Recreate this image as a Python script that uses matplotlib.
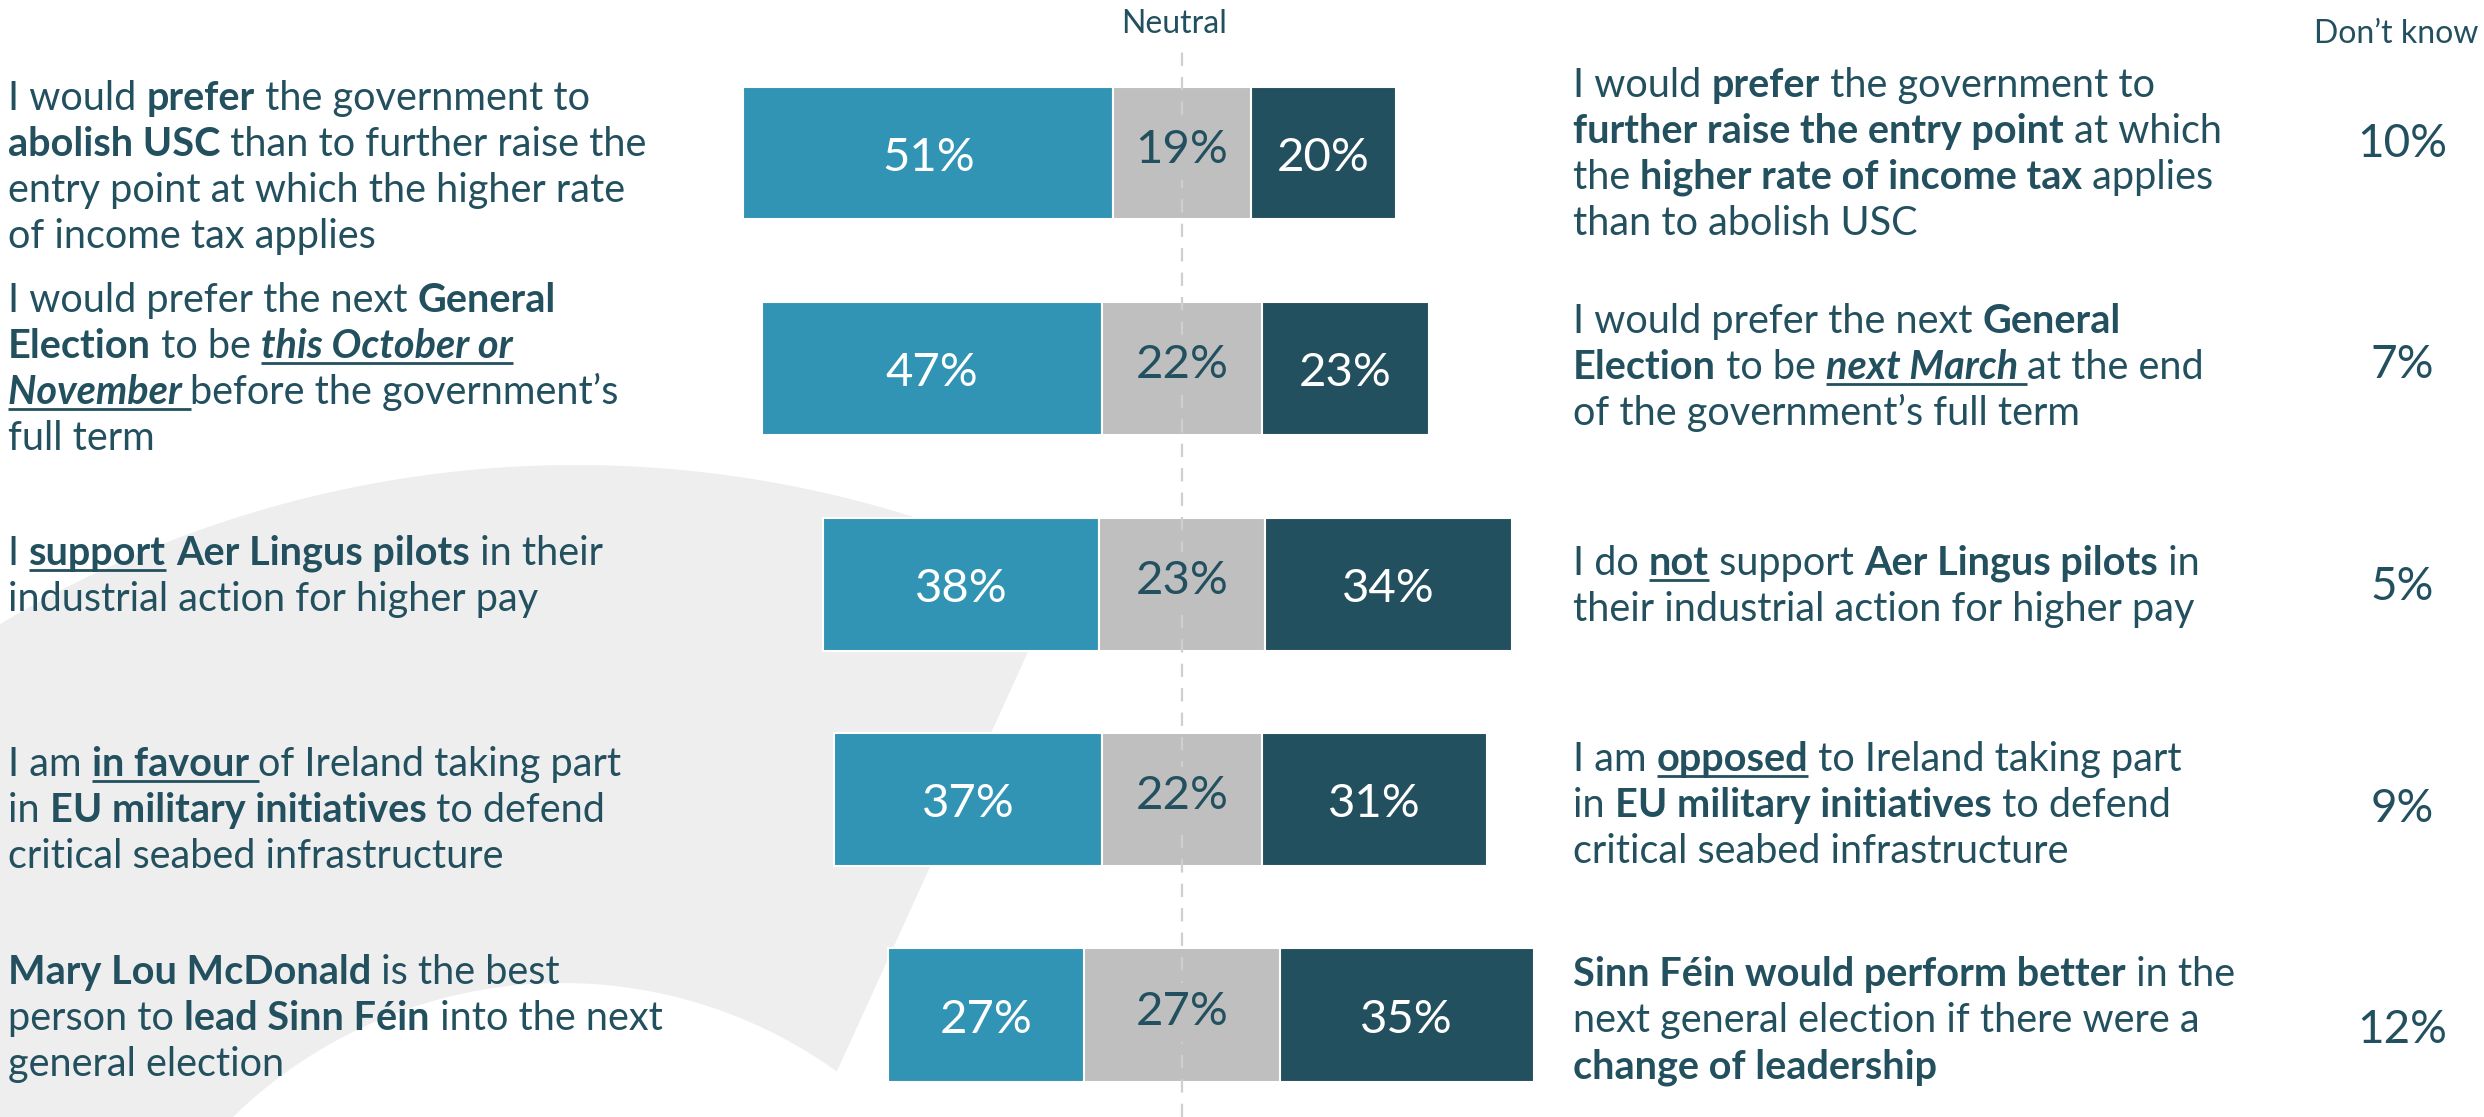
import numpy as np
import matplotlib
matplotlib.use("Agg")
import matplotlib.pyplot as plt
from matplotlib.font_manager import FontProperties
from matplotlib.patches import Polygon
from matplotlib.lines import Line2D

W, H = 2484, 1117
DPI = 100

# survey results (%), one entry per question pair, top to bottom
agree = [51, 47, 38, 37, 27]
neutral = [19, 22, 23, 22, 27]
disagree = [20, 23, 34, 31, 35]
dont_know = [10, 7, 5, 9, 12]

# statements: lines of (text, format) runs; b = bold, i = italic, u = underline
left_labels = [
    [[("I would ", ""), ("prefer", "b"), (" the government to", "")],
     [("abolish USC", "b"), (" than to further raise the", "")],
     [("entry point at which the higher rate", "")],
     [("of income tax applies", "")]],
    [[("I would prefer the next ", ""), ("General", "b")],
     [("Election", "b"), (" to be ", ""), ("this October or", "biu")],
     [("November ", "biu"), ("before the government\u2019s", "")],
     [("full term", "")]],
    [[("I ", ""), ("support", "bu"), (" ", ""), ("Aer Lingus pilots", "b"), (" in their", "")],
     [("industrial action for higher pay", "")]],
    [[("I am ", ""), ("in favour ", "bu"), ("of Ireland taking part", "")],
     [("in ", ""), ("EU military initiatives", "b"), (" to defend", "")],
     [("critical seabed infrastructure", "")]],
    [[("Mary Lou McDonald", "b"), (" is the best", "")],
     [("person to ", ""), ("lead Sinn F\u00e9in", "b"), (" into the next", "")],
     [("general election", "")]],
]

right_labels = [
    [[("I would ", ""), ("prefer", "b"), (" the government to", "")],
     [("further raise the entry point", "b"), (" at which", "")],
     [("the ", ""), ("higher rate of income tax", "b"), (" applies", "")],
     [("than to abolish USC", "")]],
    [[("I would prefer the next ", ""), ("General", "b")],
     [("Election", "b"), (" to be ", ""), ("next March ", "biu"), ("at the end", "")],
     [("of the government\u2019s full term", "")]],
    [[("I do ", ""), ("not", "bu"), (" support ", ""), ("Aer Lingus pilots", "b"), (" in", "")],
     [("their industrial action for higher pay", "")]],
    [[("I am ", ""), ("opposed", "bu"), (" to Ireland taking part", "")],
     [("in ", ""), ("EU military initiatives", "b"), (" to defend", "")],
     [("critical seabed infrastructure", "")]],
    [[("Sinn F\u00e9in would perform better", "b"), (" in the", "")],
     [("next general election if there were a", "")],
     [("change of leadership", "b")]],
]

header_neutral = "Neutral"
header_dk = "Don\u2019t know"

C_AGREE = "#3194B4"
C_NEUTRAL = "#BFBFBF"
C_DIS = "#23505F"
C_TEXT = "#23505F"
C_BG = "#EEEEEE"
C_DASH = "#CFCFCF"
FAMILY = ["Lato", "DejaVu Sans"]

# layout (pixels)
CX, PX = 1182, 7.25          # x of neutral midpoint, pixels per percent
ROW0, STEP = 153, 215.5      # y of first bar centre, row spacing
LEFT_X, RIGHT_X = 8, 1573
LEFT_BASE = [110, 312, 565, 776, 984]
RIGHT_BASE = [97, 333, 575, 771, 986]
LINE_H = 46

fig = plt.figure(figsize=(W / DPI, H / DPI), dpi=DPI)
fig.patch.set_facecolor("white")

# background axes in pixel units (swoosh + text)
bg = fig.add_axes([0, 0, 1, 1])
bg.set_xlim(0, W)
bg.set_ylim(H, 0)
bg.axis("off")

# grey swoosh: big disc minus a smaller disc, cut by a straight edge
oc, orad = (576, 1587), 1122
ic, irad = (562, 1454), 471
a1 = np.radians(np.linspace(-125, -64.3, 80))
a2 = np.radians(np.linspace(-54.3, -160, 80))
outer = np.c_[oc[0] + orad * np.cos(a1), oc[1] + orad * np.sin(a1)]
inner = np.c_[ic[0] + irad * np.cos(a2), ic[1] + irad * np.sin(a2)]
pts = np.vstack([outer, inner, [[-60, 1300]]])
bg.add_patch(Polygon(pts, closed=True, facecolor=C_BG, edgecolor="none", zorder=0))

renderer = fig.canvas.get_renderer()


def fprops(fmt, size):
    return FontProperties(family=FAMILY,
                          weight="bold" if "b" in fmt else "normal",
                          style="italic" if "i" in fmt else "normal",
                          size=size)


def text_w(s, fp):
    # bracket with bars so leading/trailing spaces are counted
    w1 = renderer.get_text_width_height_descent("|" + s + "|", fp, ismath=False)[0]
    w0 = renderer.get_text_width_height_descent("||", fp, ismath=False)[0]
    return w1 - w0


# pick body size so a plain reference line matches its width in the source
probe = fprops("", 30)
BODY = 30 * 530 / text_w("industrial action for higher pay", probe)


def draw_label(x0, base, lines):
    for k, line in enumerate(lines):
        x = x0
        y = base + k * LINE_H
        for s, fmt in line:
            fp = fprops(fmt, BODY)
            bg.text(x, y, s, fontproperties=fp, color=C_TEXT, ha="left", va="baseline", zorder=5)
            w = text_w(s, fp)
            if "u" in fmt:
                bg.add_line(Line2D([x, x + w], [y + 5, y + 5], color=C_TEXT, lw=2.0,
                                   solid_capstyle="butt", zorder=5))
            x += w


for i in range(len(agree)):
    draw_label(LEFT_X, LEFT_BASE[i], left_labels[i])
    draw_label(RIGHT_X, RIGHT_BASE[i], right_labels[i])

# headers
bg.text(1174, 33, header_neutral, fontproperties=fprops("", 23), color=C_TEXT,
        ha="center", va="baseline")
bg.text(2314, 43, header_dk, fontproperties=fprops("", 23), color=C_TEXT,
        ha="left", va="baseline")

# don't know column
for i, v in enumerate(dont_know):
    bg.text(2402, 157 + 221.5 * i, f"{v}%", fontproperties=fprops("", 33), color=C_TEXT,
            ha="center", va="baseline")

# bar axes in data units
ax = fig.add_axes([0, 0, 1, 1])
ax.patch.set_alpha(0)
ax.set_xlim(-CX / PX, (W - CX) / PX)
ax.set_ylim((H - ROW0) / STEP, -ROW0 / STEP)
ax.axis("off")

y = np.arange(len(agree))
a = np.array(agree, dtype=float)
n = np.array(neutral, dtype=float)
d = np.array(disagree, dtype=float)
bh = 133 / STEP
kw = dict(height=bh, edgecolor="white", linewidth=1.5, zorder=2)
ax.barh(y, a, left=-n / 2 - a, color=C_AGREE, **kw)
ax.barh(y, n, left=-n / 2, color=C_NEUTRAL, **kw)
ax.barh(y, d, left=n / 2, color=C_DIS, **kw)

ax.axvline(0, ymin=0, ymax=1 - 42 / H, color=C_DASH, lw=1.6, ls=(0, (6, 5)), zorder=3)

lab_fp = fprops("", 34)
off = 18 / STEP
for i in range(len(agree)):
    ax.text(-n[i] / 2 - a[i] / 2, y[i] + off, f"{agree[i]}%", fontproperties=lab_fp,
            color="white", ha="center", va="baseline", zorder=4)
    ax.text(0, y[i] + off - 8 / STEP, f"{neutral[i]}%", fontproperties=lab_fp,
            color=C_TEXT, ha="center", va="baseline", zorder=4,
            bbox=dict(facecolor=C_NEUTRAL, edgecolor="none", pad=6))
    ax.text(n[i] / 2 + d[i] / 2, y[i] + off, f"{disagree[i]}%", fontproperties=lab_fp,
            color="white", ha="center", va="baseline", zorder=4)

fig.savefig("out.png", dpi=DPI, facecolor="white")
